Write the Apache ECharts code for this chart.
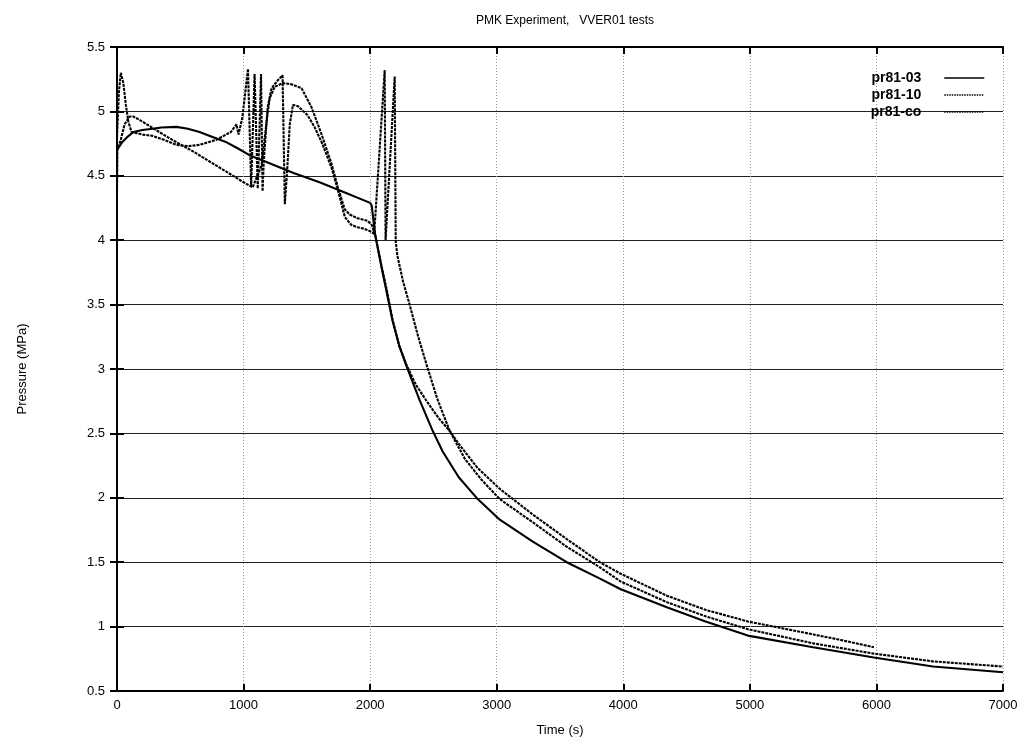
<!DOCTYPE html>
<html>
<head>
<meta charset="utf-8">
<script src="https://cdn.jsdelivr.net/npm/echarts@6/dist/echarts.min.js"></script>
<style>
html,body{margin:0;padding:0;background:#fff;}
#chart{width:1021px;height:745px;}
</style>
</head>
<body>
<div id="chart"></div>
<script>
// ---- data ----
var seriesNames = ['pr81-03', 'pr81-10', 'pr81-co'];
var xTicks = [0, 1000, 2000, 3000, 4000, 5000, 6000, 7000];
var yTicks = [0.5, 1, 1.5, 2, 2.5, 3, 3.5, 4, 4.5, 5, 5.5];

// pr81-03
var t03 = [0, 40, 80, 130, 200, 282, 350, 470, 560, 652, 760, 866, 960, 1047, 1200, 1400, 1600, 1800, 2000, 2012, 2040, 2090, 2130, 2178, 2230, 2288, 2390, 2494, 2573, 2700, 2850, 3024, 3285, 3553, 3800, 3980, 4344, 4650, 4984, 5500, 5980, 6447, 7000];
var p03 = [4.70, 4.76, 4.80, 4.84, 4.855, 4.865, 4.875, 4.88, 4.865, 4.84, 4.80, 4.76, 4.71, 4.66, 4.60, 4.52, 4.45, 4.37, 4.29, 4.27, 4.04, 3.79, 3.60, 3.37, 3.18, 3.02, 2.76, 2.52, 2.36, 2.16, 1.99, 1.83, 1.66, 1.50, 1.38, 1.29, 1.15, 1.04, 0.93, 0.84, 0.76, 0.69, 0.645];

// pr81-10
var t10 = [0, 3, 30, 60, 100, 130, 194, 300, 400, 470, 600, 700, 800, 900, 1000, 1072, 1087, 1142, 1182, 1206, 1245, 1308, 1380, 1458, 1538, 1617, 1696, 1745, 1799, 1838, 1900, 1980, 2012, 2040, 2090, 2130, 2178, 2230, 2288, 2360, 2447, 2540, 2628, 2707, 2850, 3024, 3285, 3553, 3814, 3980, 4344, 4650, 4984, 5395, 5700, 5980];
var p10 = [4.38, 4.70, 4.78, 4.90, 4.96, 4.96, 4.925, 4.86, 4.80, 4.76, 4.69, 4.63, 4.57, 4.51, 4.45, 4.41, 4.42, 4.58, 4.92, 5.10, 5.19, 5.22, 5.21, 5.18, 5.03, 4.82, 4.59, 4.41, 4.24, 4.20, 4.17, 4.15, 4.12, 4.04, 3.80, 3.62, 3.38, 3.18, 3.03, 2.88, 2.75, 2.62, 2.52, 2.41, 2.23, 2.07, 1.87, 1.68, 1.50, 1.41, 1.24, 1.13, 1.04, 0.96, 0.90, 0.84];

// pr81-co
var tco = [0, 15, 30, 50, 70, 90, 115, 160, 203, 281, 370, 470, 560, 652, 786, 900, 944, 960, 990, 1035, 1060, 1087, 1112, 1138, 1150, 1160, 1190, 1221, 1269, 1308, 1318, 1326, 1345, 1365, 1390, 1430, 1506, 1560, 1617, 1696, 1745, 1800, 1850, 1900, 1950, 2000, 2032, 2115, 2122, 2194, 2202, 2215, 2260, 2312, 2380, 2447, 2530, 2628, 2750, 2880, 3024, 3285, 3553, 3800, 3980, 4344, 4650, 4984, 5500, 5980, 6447, 7000];
var pco = [4.80, 5.15, 5.30, 5.22, 5.05, 4.92, 4.84, 4.83, 4.82, 4.81, 4.78, 4.74, 4.73, 4.74, 4.78, 4.84, 4.90, 4.82, 4.95, 5.33, 4.42, 5.29, 4.40, 5.29, 4.38, 4.62, 5.03, 5.18, 5.24, 5.28, 5.28, 4.28, 4.55, 4.90, 5.05, 5.04, 4.97, 4.88, 4.76, 4.56, 4.39, 4.18, 4.12, 4.10, 4.09, 4.07, 4.05, 5.32, 4.00, 5.27, 3.99, 3.88, 3.68, 3.50, 3.25, 3.03, 2.77, 2.52, 2.30, 2.14, 1.99, 1.81, 1.62, 1.47, 1.35, 1.19, 1.08, 0.98, 0.87, 0.79, 0.73, 0.69];

function zip(t, p) { return t.map(function (v, i) { return [v, p[i]]; }); }

var FONT = 'Liberation Sans';
var chart = echarts.init(document.getElementById('chart'), null, {renderer: 'canvas'});

var xMin = xTicks[0], xMax = xTicks[xTicks.length - 1], xStep = xTicks[1] - xTicks[0];
var yMin = yTicks[0], yMax = yTicks[yTicks.length - 1], yStep = yTicks[1] - yTicks[0];

var tickStyle = {show: true, inside: true, length: 7, lineStyle: {color: '#000', width: 2}};
var axisLineStyle = {show: true, lineStyle: {color: '#000', width: 1.8}};
var hiddenSymbol = {color: 'rgba(0,0,0,0)', borderWidth: 0, opacity: 0};

var option = {
  animation: false,
  backgroundColor: '#fff',
  title: {
    text: 'PMK Experiment,   VVER01 tests',
    left: 560, top: 10, textAlign: 'center',
    textStyle: {fontFamily: FONT, fontSize: 12, fontWeight: 'normal', color: '#000'}
  },
  legend: {
    orient: 'vertical', right: 36, top: 71, align: 'right', padding: 0,
    itemWidth: 40, itemHeight: 12, itemGap: 3,
    textStyle: {fontFamily: FONT, fontSize: 14, fontWeight: 'bold', color: '#000', padding: [0, 18, 0, 0]},
    data: [
      {name: seriesNames[0], itemStyle: hiddenSymbol, lineStyle: {color: '#000', width: 1.5, type: 'solid'}},
      {name: seriesNames[1], itemStyle: hiddenSymbol, lineStyle: {color: '#000', width: 1.5, type: [1.5, 1]}},
      {name: seriesNames[2], itemStyle: hiddenSymbol, lineStyle: {color: '#000', width: 1.5, type: [1.5, 1]}}
    ]
  },
  grid: {left: 117, right: 18, top: 47, bottom: 54, containLabel: false},
  xAxis: [{
    type: 'value', min: xMin, max: xMax, interval: xStep,
    name: 'Time (s)', nameLocation: 'middle', nameGap: 33,
    nameTextStyle: {fontFamily: FONT, fontSize: 13, color: '#000'},
    axisLine: axisLineStyle, axisTick: tickStyle,
    axisLabel: {fontFamily: FONT, fontSize: 13, color: '#000', margin: 8,
      formatter: function (v) { return String(v); }},
    splitLine: {show: true, lineStyle: {color: '#999', width: 1, type: [1, 2]}}
  }, {
    type: 'value', position: 'top', min: xMin, max: xMax, interval: xStep,
    axisLine: axisLineStyle, axisTick: tickStyle, axisLabel: {show: false}, splitLine: {show: false}
  }],
  yAxis: [{
    type: 'value', min: yMin, max: yMax, interval: yStep,
    name: 'Pressure (MPa)', nameLocation: 'middle', nameGap: 88, nameRotate: 90,
    nameTextStyle: {fontFamily: FONT, fontSize: 13, color: '#000'},
    axisLine: axisLineStyle, axisTick: tickStyle,
    axisLabel: {fontFamily: FONT, fontSize: 13, color: '#000', margin: 12,
      formatter: function (v) { return String(v); }},
    splitLine: {show: true, lineStyle: {color: '#222', width: 1.2}}
  }, {
    type: 'value', position: 'right', min: yMin, max: yMax, interval: yStep,
    axisLine: axisLineStyle, axisTick: tickStyle, axisLabel: {show: false}, splitLine: {show: false}
  }],
  series: [
    {name: seriesNames[0], type: 'line', data: zip(t03, p03), symbol: 'none', showSymbol: false,
     lineStyle: {color: '#000', width: 2.1, type: 'solid'}, itemStyle: {color: '#000'}, z: 3},
    {name: seriesNames[1], type: 'line', data: zip(t10, p10), symbol: 'none', showSymbol: false,
     lineStyle: {color: '#000', width: 2.1, type: [3, 1]}, itemStyle: {color: '#000'}, z: 3},
    {name: seriesNames[2], type: 'line', data: zip(tco, pco), symbol: 'none', showSymbol: false,
     lineStyle: {color: '#000', width: 2.1, type: [3, 1]}, itemStyle: {color: '#000'}, z: 3}
  ]
};
chart.setOption(option);
</script>
</body>
</html>
